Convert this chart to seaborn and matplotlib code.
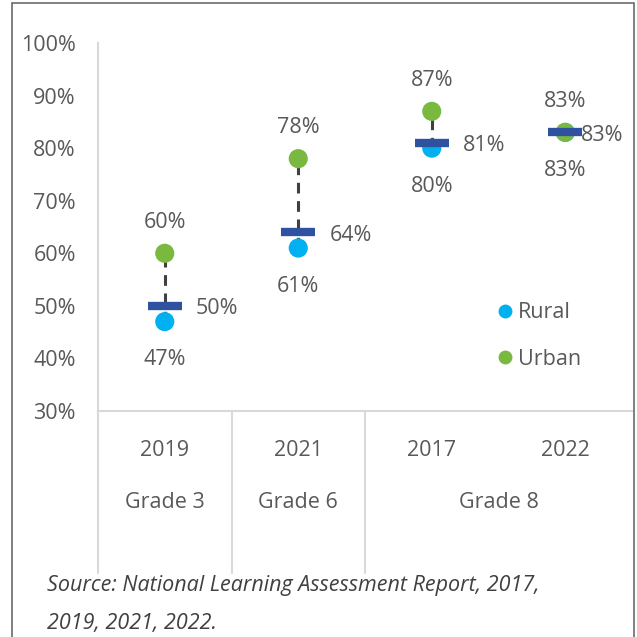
import seaborn as sns
import pandas as pd
import numpy as np
import matplotlib.pyplot as plt
from matplotlib.patches import Rectangle
from matplotlib.transforms import blended_transform_factory
from matplotlib.lines import Line2D

years = ['2019', '2021', '2017', '2022']
grades = ['Grade 3', 'Grade 6', 'Grade 8']
grade_centers = [0, 1, 2.5]
rural = [0.47, 0.61, 0.80, 0.83]
urban = [0.60, 0.78, 0.87, 0.83]
average = [0.50, 0.64, 0.81, 0.83]

rural_col = '#00B0F0'
urban_col = '#7AB940'
avg_col = '#2F52A0'
txt_col = '#595959'

sns.set_theme(style='white')
plt.rcParams['font.family'] = ['Open Sans', 'DejaVu Sans']

df = pd.DataFrame({'x': range(4), 'year': years, 'Rural': rural, 'Urban': urban, 'avg': average})
long = df.melt(id_vars=['x'], value_vars=['Rural', 'Urban'], var_name='area', value_name='score')

fig = plt.figure(figsize=(6.37, 6.37), dpi=100)
ax = fig.add_axes([98/637, 1-411/637, (632-98)/637, (411-43)/637])

# dashed connector
ax.vlines(df['x'], df['Rural'], df['Urban'], colors='#404040', linestyles=(0, (3.5, 2.5)), linewidth=2.2, zorder=1)

sns.scatterplot(data=long, x='x', y='score', hue='area', palette={'Rural': rural_col, 'Urban': urban_col},
                s=190, edgecolor='none', legend=False, ax=ax, zorder=2)
ax.plot(df['x'], df['avg'], linestyle='none', marker='_', markersize=25, markeredgewidth=6, color=avg_col, zorder=3)

fs = 15.5
for i, row in df.iterrows():
    ax.annotate(f"{row['Urban']*100:.0f}%", (row['x'], row['Urban']), xytext=(0, 22.5), textcoords='offset points',
                ha='center', va='center', fontsize=fs, color=txt_col)
    ax.annotate(f"{row['Rural']*100:.0f}%", (row['x'], row['Rural']), xytext=(0, -27.5), textcoords='offset points',
                ha='center', va='center', fontsize=fs, color=txt_col)
    dx = 11.5 if i == 3 else 22.5
    ax.annotate(f"{row['avg']*100:.0f}%", (row['x'], row['avg']), xytext=(dx, -2), textcoords='offset points',
                ha='left', va='center', fontsize=fs, color=txt_col)

ax.set_xlim(-0.5, 3.5)
ax.set_ylim(0.30, 1.00)
ax.set_yticks(np.arange(0.3, 1.01, 0.1))
ax.set_yticklabels([f'{v}%' for v in range(30, 101, 10)])
ax.set_xticks(range(4))
ax.set_xticklabels(years)
ax.tick_params(axis='y', length=0, pad=16, labelsize=fs, labelcolor=txt_col)
ax.tick_params(axis='x', length=0, pad=21, labelsize=fs, labelcolor=txt_col)
ax.set_xlabel('')
ax.set_ylabel('')
for s in ['top', 'right']:
    ax.spines[s].set_visible(False)
for s in ['left', 'bottom']:
    ax.spines[s].set_color('#D9D9D9')
    ax.spines[s].set_linewidth(1.5)

# second level of category axis
trans = blended_transform_factory(ax.transData, ax.transAxes)
for g, c in zip(grades, grade_centers):
    ax.text(c, (411-503)/368, g, transform=trans, ha='center', va='center', fontsize=fs, color=txt_col)
for sx in [-0.5, 0.5, 1.5]:
    ax.plot([sx, sx], [0, (411-573)/368], transform=trans, color='#D9D9D9', lw=1.5, clip_on=False)

handles = [Line2D([], [], marker='o', linestyle='none', markersize=10, color=rural_col, markeredgewidth=0),
           Line2D([], [], marker='o', linestyle='none', markersize=10, color=urban_col, markeredgewidth=0)]
leg = ax.legend(handles, ['Rural', 'Urban'], loc='center left', bbox_to_anchor=((474-98)/534, (411-336)/368),
                frameon=False, fontsize=fs, handletextpad=0.05, handlelength=1.1, labelspacing=1.2)
for t in leg.get_texts():
    t.set_color(txt_col)

fig.text(47/637, 1-586/637, 'Source: National Learning Assessment Report, 2017,', style='italic',
         fontsize=15.5, color='#404040', va='center', ha='left')
fig.text(47/637, 1-623/637, '2019, 2021, 2022.', style='italic',
         fontsize=15.5, color='#404040', va='center', ha='left')

fig.patches.append(Rectangle((12/637, -0.05), (634-12)/637, 1.05-3/637, transform=fig.transFigure,
                             fill=False, edgecolor='#6B6B6B', linewidth=1.2))

fig.savefig('out.png', dpi=100)
